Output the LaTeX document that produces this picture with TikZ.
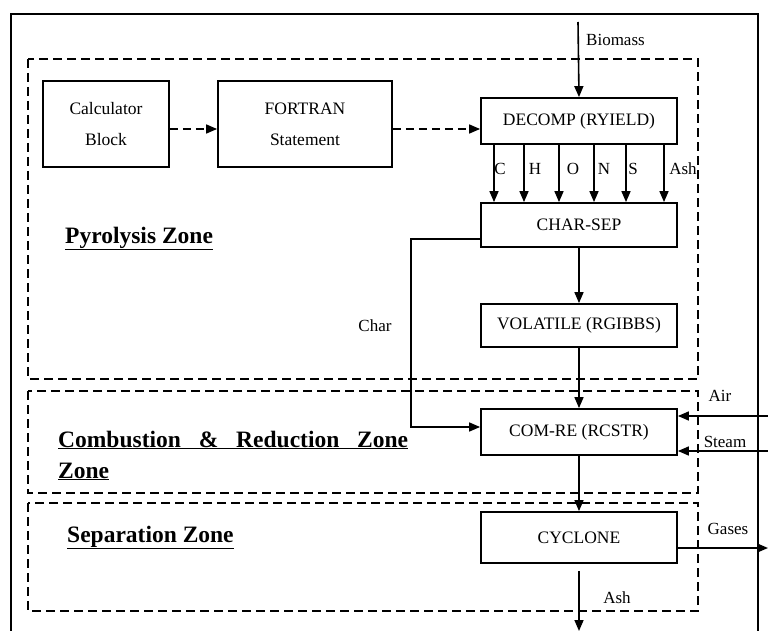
\documentclass[tikz,border=0pt]{standalone}
\usepackage{fontspec}
\setmainfont{Liberation Serif}
\usetikzlibrary{arrows.meta}

\begin{document}
\begin{tikzpicture}[x=1pt, y=-1pt,
  blk/.style={draw, line width=1.8pt, minimum width=196pt, minimum height=46pt, inner sep=0pt, font=\fontsize{17.5}{20}\selectfont},
  twoline/.style={align=center, font=\fontsize{17.5}{31}\selectfont},
  zone/.style={draw, line width=1.8pt, dash pattern=on 9pt off 5pt},
  arr/.style={line width=1.6pt, -{Triangle[length=11pt,width=9pt]}},
  darr/.style={arr, dash pattern=on 8pt off 5pt},
  lbl/.style={font=\fontsize{17}{20}\selectfont, inner sep=0pt},
  zonelbl/.style={font=\fontsize{23.5}{28}\selectfont\bfseries, anchor=base west, inner sep=0pt}]
\clip (0,0) rectangle (768,631);

% frame and zones
\draw[line width=2.8pt] (11,660) -- (11,14) -- (758,14) -- (758,660);
\draw[zone] (28,59) rectangle (698,379);
\draw[zone] (28,391) rectangle (698,493);
\draw[zone] (28,503) rectangle (698,611);

\node[zonelbl] (pyrolbl) at (65,243) {\underline{Pyrolysis Zone}};
\node[zonelbl] (comblbl) at (58,447) {\underline{\makebox[350pt][s]{Combustion \& Reduction Zone}}};
\node[zonelbl] (comblblb) at (58,478) {\underline{Zone}};
\node[zonelbl] (seplbl) at (67,542) {\underline{Separation Zone}};

% blocks
\node[blk, twoline, minimum width=126pt, minimum height=86pt] (calc) at (106,124) {Calculator\\Block};
\node[blk, twoline, minimum width=174pt, minimum height=86pt] (fortran) at (305,124) {FORTRAN\\Statement};
\node[blk] (decomp) at (579,121) {DECOMP (RYIELD)};
\node[blk, minimum height=44pt] (charsep) at (579,225) {CHAR-SEP};
\node[blk, minimum height=43pt] (volatile) at (579,325.5) {VOLATILE (RGIBBS)};
\node[blk] (comre) at (579,432) {COM-RE (RCSTR)};
\node[blk, minimum height=51pt] (cyclone) at (579,537.5) {CYCLONE};

% streams
\coordinate (biomass) at (578,22);
\coordinate (airin) at (768,416);
\coordinate (steamin) at (768,451);
\coordinate (gasout) at (768,548);
\coordinate (ashout) at (579,631);

\draw[arr] (biomass) -- (decomp.north);
\node[lbl, anchor=west] (biomasslbl) at (586,40) {Biomass};

\draw[darr] ([yshift=-5pt]calc.east) -- ([yshift=-5pt]fortran.west);
\draw[darr] ([yshift=-5pt]fortran.east) -- ([yshift=-5pt]fortran.east -| decomp.west);

\foreach \x/\lx/\el in {494/500/C, 524/535/H, 559/573/O, 594/604/N, 626/633/S, 664/683/Ash}
{
  \draw[arr] (decomp.south -| \x,0) -- (charsep.north -| \x,0);
  \node[lbl] (el\el) at (\lx,169) {\el};
}

\draw[arr] ([yshift=-14pt]charsep.west) -- ++(-69,0) |- ([yshift=5pt]comre.west);
\node[lbl] (charlbl) at (375,326) {Char};

\draw[arr] (charsep) -- (volatile);
\draw[arr] (volatile) -- (comre);
\draw[arr] (comre) -- (cyclone);

\draw[arr] (airin) -- (comre.east |- airin);
\node[lbl] (airlbl) at (720,396) {Air};
\draw[arr] (steamin) -- (comre.east |- steamin);
\node[lbl] (steamlbl) at (725,442) {Steam};

\draw[arr] (cyclone.east |- gasout) -- (gasout);
\node[lbl] (gaslbl) at (728,529) {Gases};
\draw[arr] ([yshift=-7pt]cyclone.south) -- (ashout);
\node[lbl] (ashlbl) at (617,598) {Ash};
\end{tikzpicture}
\end{document}
